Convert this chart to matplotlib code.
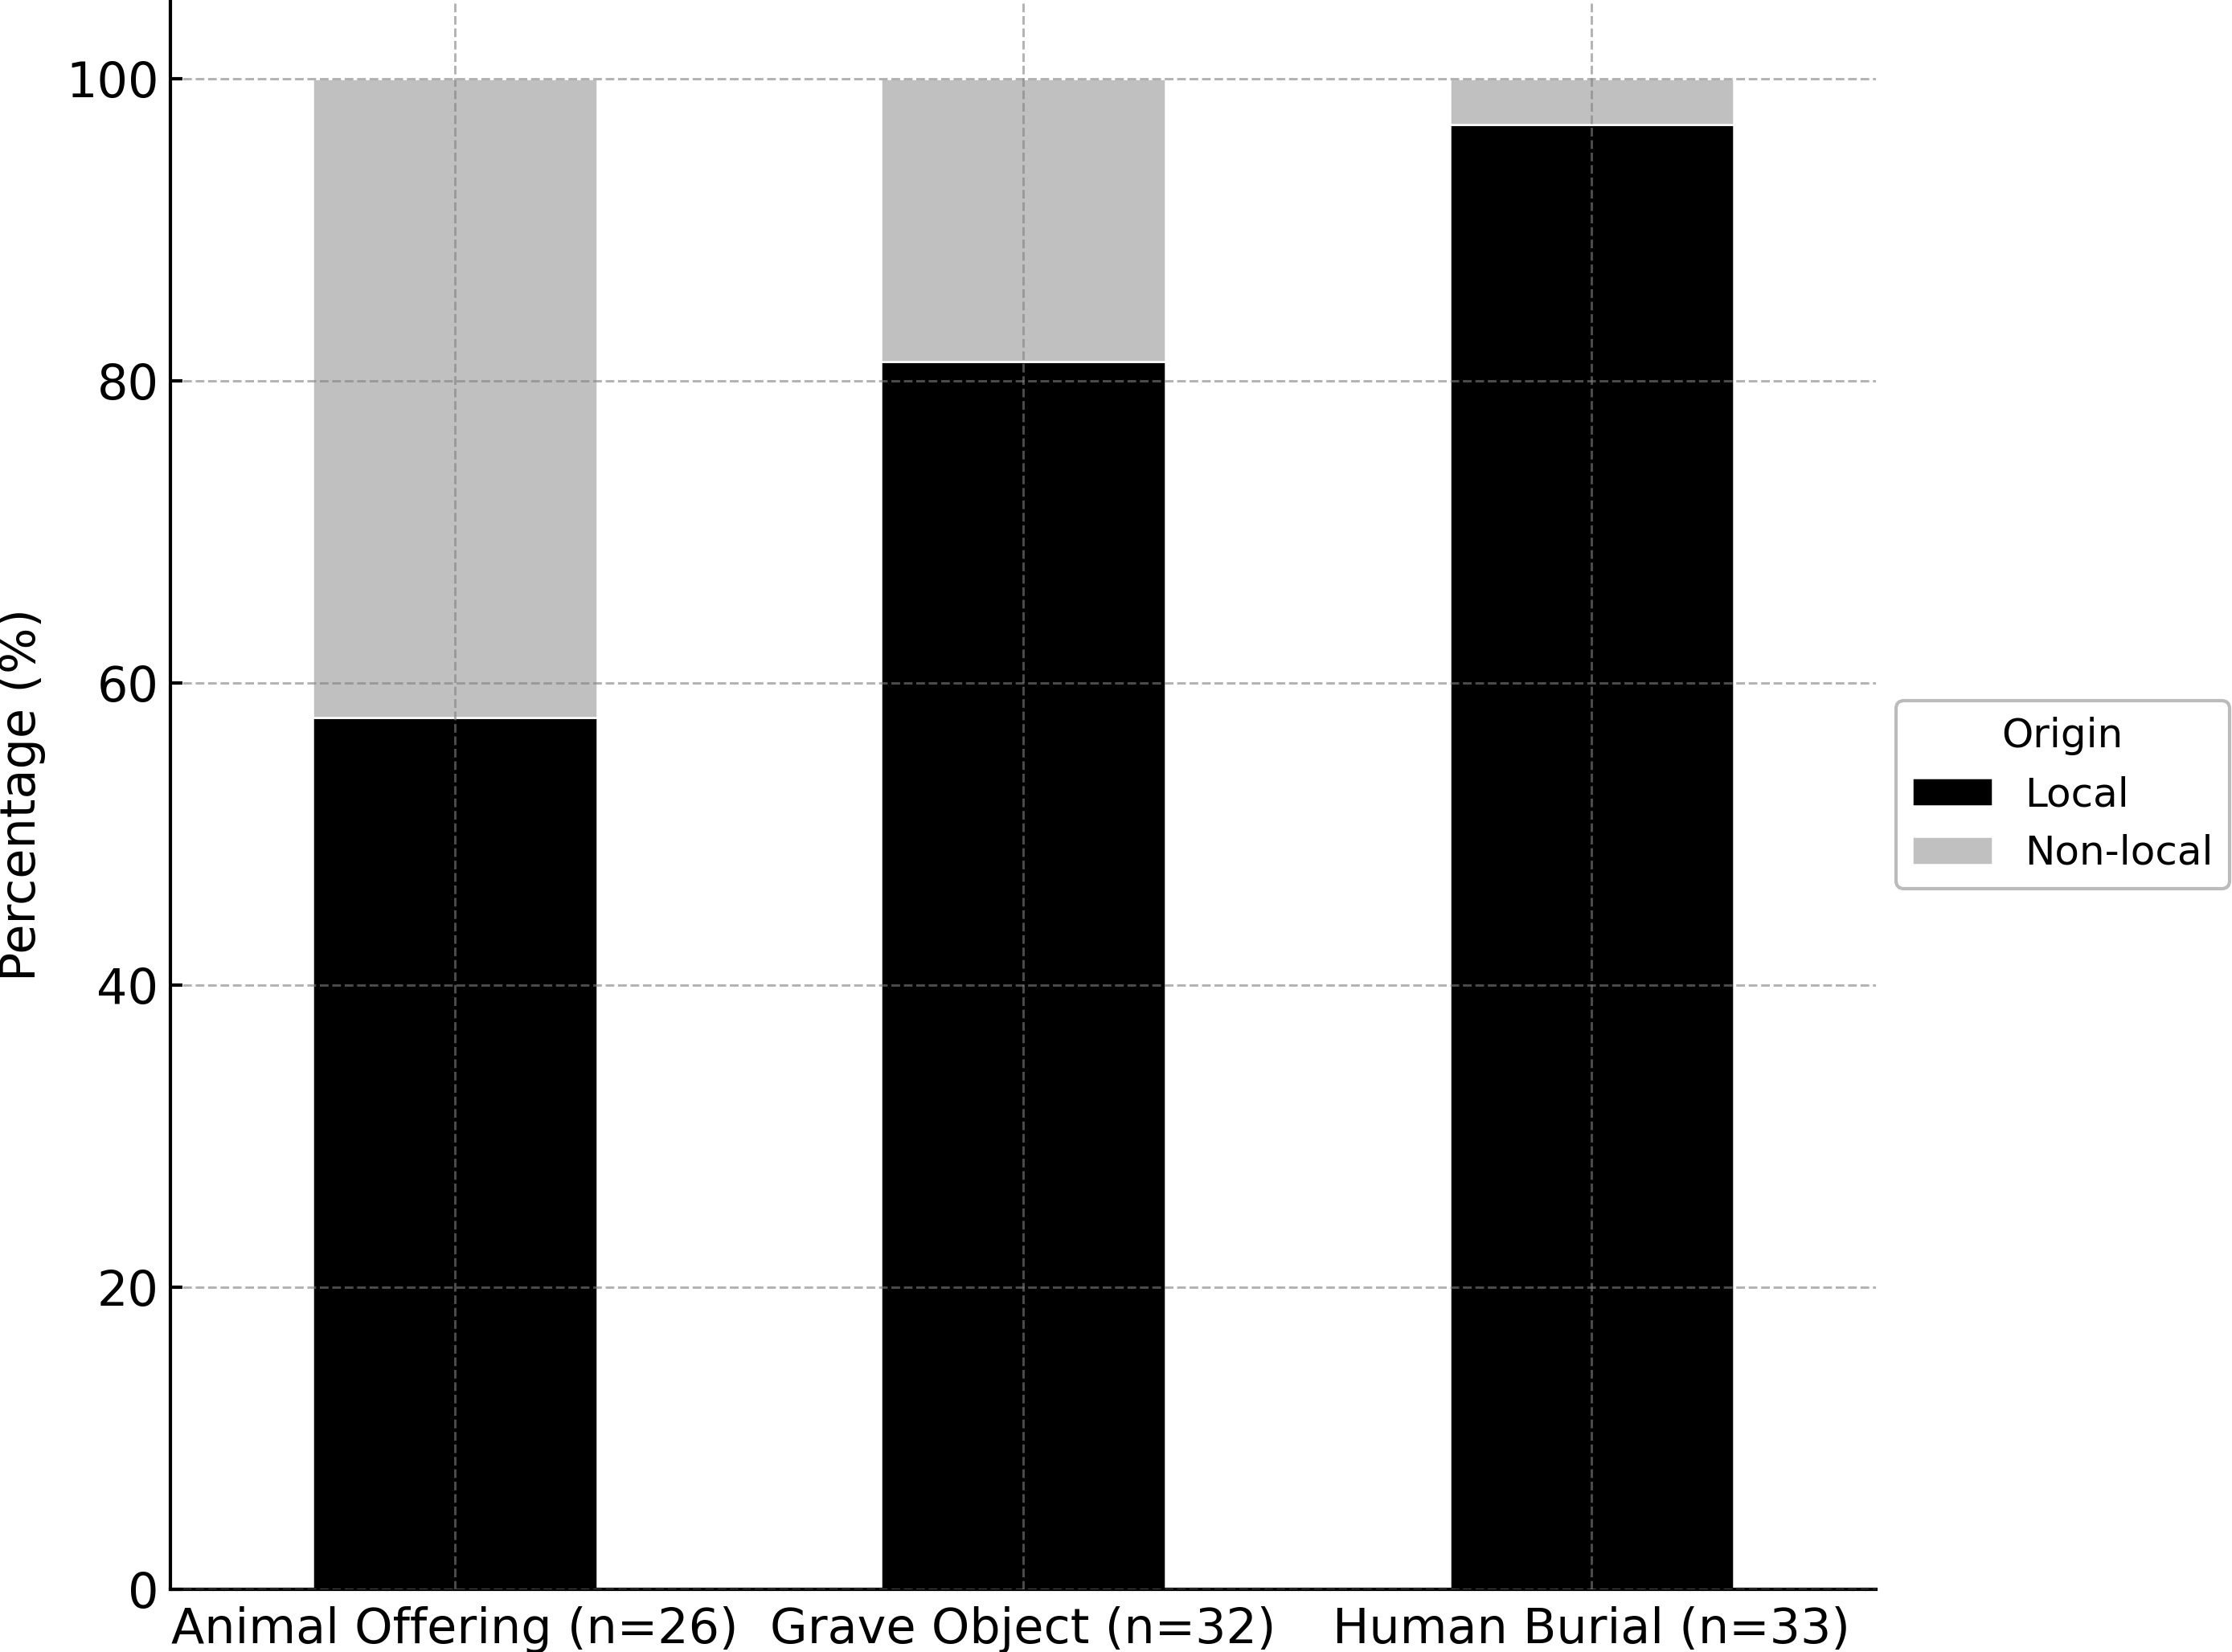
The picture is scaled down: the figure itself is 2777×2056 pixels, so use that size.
import numpy as np
import matplotlib
matplotlib.use("Agg")
import matplotlib.pyplot as plt

# data: share of local / non-local individuals per context
categories = ["Animal Offering (n=26)", "Grave Object (n=32)", "Human Burial (n=33)"]
local_pct = [57.69, 81.25, 96.97]
nonlocal_pct = [42.31, 18.75, 3.03]

fig = plt.figure(figsize=(2777 / 300, 2056 / 300), dpi=300)
ax = fig.add_axes([212 / 2777, 1 - 1978 / 2056, (2334 - 212) / 2777, 1978 / 2056])

x = np.arange(len(categories))
ax.bar(x, local_pct, width=0.5, color="black", edgecolor="white", linewidth=0.6, label="Local")
ax.bar(x, nonlocal_pct, width=0.5, bottom=local_pct, color="silver",
       edgecolor="white", linewidth=0.6, label="Non-local")

ax.set_xticks(x)
ax.set_xticklabels(categories, fontsize=14.5)
ax.set_xlim(-0.5, 2.5)
ax.set_ylim(0, 105.2)
ax.set_yticks([0, 20, 40, 60, 80, 100])
ax.tick_params(axis="y", labelsize=14.5, direction="in", width=1.0)
ax.tick_params(axis="x", direction="in", length=0, pad=5)
ax.set_ylabel("Percentage (%)", fontsize=14.5, labelpad=6)

ax.spines["top"].set_visible(False)
ax.spines["right"].set_visible(False)
for s in ("left", "bottom"):
    ax.spines[s].set_linewidth(1.0)

# grid over the bars
ax.set_axisbelow(False)
ax.grid(True, linestyle="--", color="gray", alpha=0.6, linewidth=0.7)

ax.legend(title="Origin", loc="center left", bbox_to_anchor=(1.0, 0.5),
          fontsize=12, title_fontsize=12, edgecolor="#aaaaaa")

fig.savefig("out.png", dpi=300)
